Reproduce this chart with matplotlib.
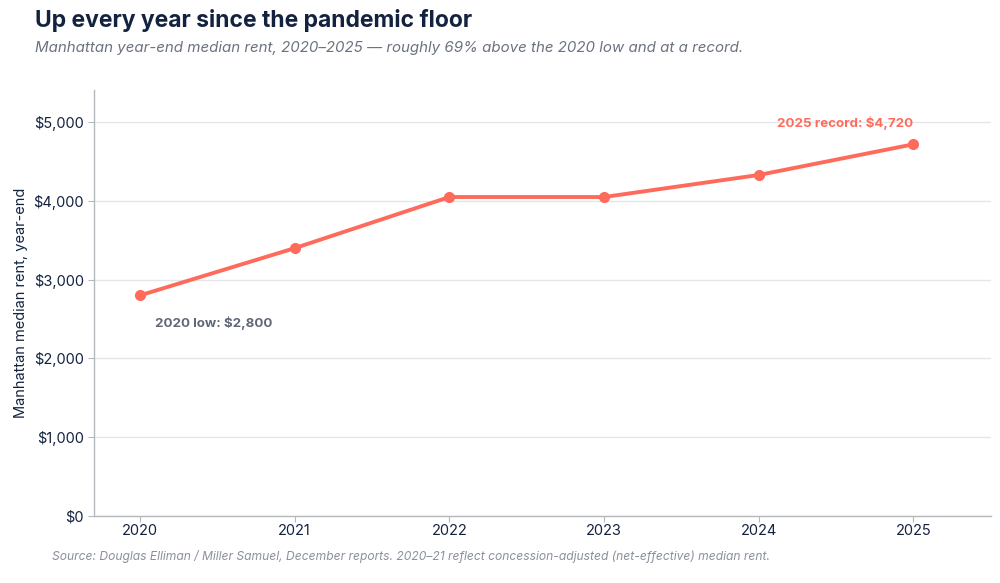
import matplotlib
matplotlib.use("Agg")
import matplotlib.pyplot as plt
from matplotlib.ticker import FuncFormatter

years = [2020, 2021, 2022, 2023, 2024, 2025]
rent = [2800, 3400, 4050, 4050, 4330, 4720]
ytick_vals = [0, 1000, 2000, 3000, 4000, 5000]

title = "Up every year since the pandemic floor"
subtitle = "Manhattan year-end median rent, 2020\u20132025 \u2014 roughly 69% above the 2020 low and at a record."
source = "Source: Douglas Elliman / Miller Samuel, December reports. 2020\u201321 reflect concession-adjusted (net-effective) median rent."
ylabel = "Manhattan median rent, year-end"
low_label = "2020 low: $2,800"
high_label = "2025 record: $4,720"

plt.rcParams['font.family'] = ['Inter', 'DejaVu Sans']

LINE = "#ff6b5b"
NAVY = "#13233f"
GRAY = "#6b7280"

fig = plt.figure(figsize=(10, 5.83), dpi=100)
ax = fig.add_axes([0.0943, 0.1154, 0.8964, 0.7302])

ax.plot(years, rent, color=LINE, lw=2.8, marker="o", ms=7, zorder=3, solid_capstyle="round")

ax.set_xlim(2019.705, 2025.5)
ax.set_ylim(0, 5410)
ax.set_xticks(years)
ax.set_xticklabels([str(y) for y in years])
ax.set_yticks(ytick_vals)
ax.yaxis.set_major_formatter(FuncFormatter(lambda v, p: f"${int(v):,}"))
ax.grid(axis="y", color="#e3e6ea", lw=1)
ax.set_axisbelow(True)
for s in ["top", "right"]:
    ax.spines[s].set_visible(False)
for s in ["left", "bottom"]:
    ax.spines[s].set_color("#b5b8bd")
    ax.spines[s].set_linewidth(1)
ax.tick_params(axis="both", colors="#b5b8bd", labelcolor=NAVY, labelsize=10.5, length=4)
ax.tick_params(axis="x", pad=2)
ax.set_ylabel(ylabel, fontsize=10.5, color=NAVY, labelpad=4)

ax.annotate(low_label, xy=(years[0], rent[0]), xytext=(11, -20), textcoords="offset points",
            fontsize=9.6, fontweight="bold", color="#5f6878", ha="left", va="center")
ax.annotate(high_label, xy=(years[-1], rent[-1]), xytext=(0, 15), textcoords="offset points",
            fontsize=9.6, fontweight="bold", color=LINE, ha="right", va="center")

fig.text(0.035, 0.964, title, fontsize=16.5, fontweight="bold", color=NAVY, ha="left", va="center")
fig.text(0.035, 0.918, subtitle, fontsize=10.85, style="italic", color=GRAY, ha="left", va="center")
fig.text(0.052, 0.046, source, fontsize=8.7, style="italic", color="#8a919c", ha="left", va="center")

fig.savefig("out.png", dpi=100)
